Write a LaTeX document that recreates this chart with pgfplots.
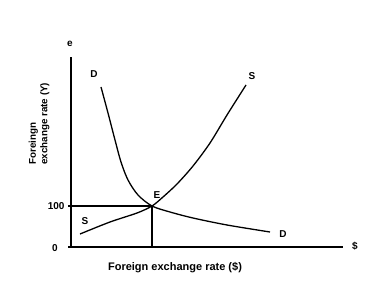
\documentclass[border=0pt]{standalone}
\usepackage{fontspec}
\setmainfont{Liberation Sans}
\usepackage{pgfplots}
\pgfplotsset{compat=1.18}
\begin{document}
\begin{tikzpicture}[x=1pt,y=1pt]
\path[use as bounding box] (0,0) rectangle (374,284);
\begin{axis}[
  at={(71pt,37pt)}, anchor=origin,
  scale only axis, width=272pt, height=190pt,
  xmin=0, xmax=272, ymin=0, ymax=190,
  axis x line=bottom, axis y line=left,
  axis line style={-, line width=1.6pt},
  xtick=\empty, ytick={0,41}, yticklabels={,100},
  tick align=outside, major tick length=3pt,
  tick style={line width=1.4pt, black},
  /pgf/number format/assume math mode=true,
  tick label style={font=\fontsize{10}{11}\selectfont\bfseries},
  clip=false,
]
\addplot[black, line width=1.3pt, smooth] coordinates {
(30,160) (37,134) (44,107) (50,85) (57,67) (67,52) (81,41) (99,35) (122,29) (156,22) (199,15)};
\addplot[black, line width=1.3pt, smooth] coordinates {
(9,13) (39,25) (66,34) (81,41) (92,50) (106,63) (122,81) (139,104) (156,132) (175,162)};
\addplot[black, line width=1.3pt] coordinates {(0,41) (81,41) (81,0)};
\begin{scope}[every node/.style={font=\fontsize{10}{11}\selectfont\bfseries}]
\node at (axis cs:-1,203) {e};
\node at (axis cs:23,173) {D};
\node at (axis cs:181,171) {S};
\node at (axis cs:86,52) {E};
\node at (axis cs:14,26) {S};
\node at (axis cs:212,13) {D};
\node at (axis cs:284,1) {\$};
\node at (axis cs:-16,-1) {0};
\node[font=\fontsize{11}{12}\selectfont\bfseries] at (axis cs:104,-21) {Foreign exchange rate (\$)};
\node[rotate=90, anchor=west, align=left, font=\fontsize{9.8}{11.5}\selectfont\bfseries] at (axis cs:-32,79) {Foreingn\\exchange rate (Y)};
\end{scope}
\end{axis}
\end{tikzpicture}
\end{document}
